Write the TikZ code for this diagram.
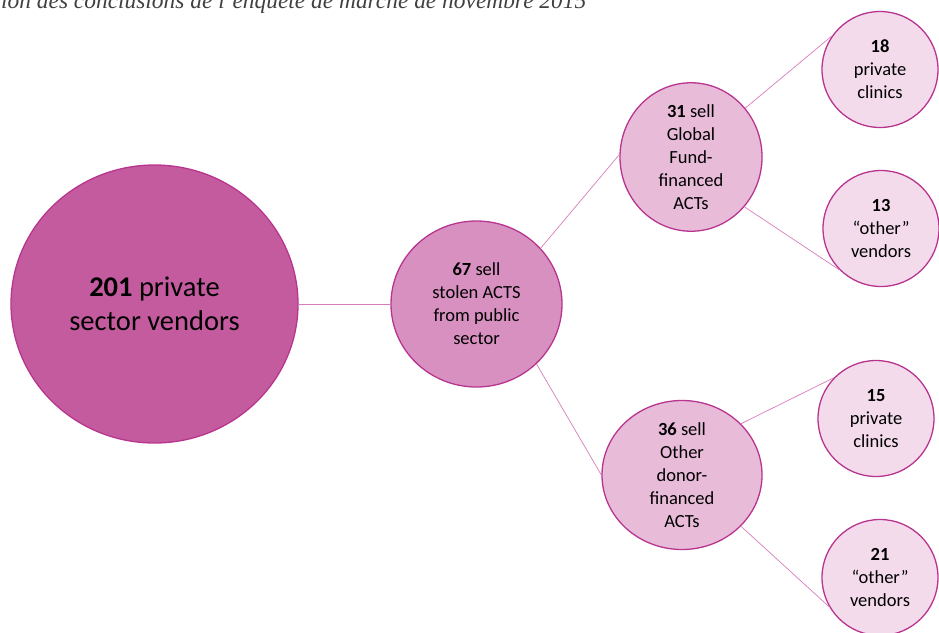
\documentclass[tikz,border=0pt]{standalone}
\usepackage{fontspec}
\setmainfont{Carlito}
\newfontfamily\captionfont{Liberation Serif}
\usetikzlibrary{shapes.geometric}
\definecolor{rimpink}{HTML}{B8358F}
\definecolor{linkpink}{HTML}{D77DBB}
\definecolor{rootfill}{HTML}{C55B9F}
\definecolor{stolenfill}{HTML}{D890C1}
\definecolor{sellfill}{HTML}{E8BBD9}
\definecolor{leaffill}{HTML}{F3DBEC}
\definecolor{captiongrey}{HTML}{404040}
\begin{document}
\begin{tikzpicture}[x=1pt,y=1pt,align=center,grow'=right,
    font=\fontsize{18.5}{23}\selectfont,
    edge from parent/.style={draw=linkpink,line width=0.7pt}]
\tikzstyle{bubble}=[ellipse,draw=rimpink,line width=1.3pt,inner sep=0pt]
\tikzstyle{sellbubble}=[bubble,fill=sellfill]
\tikzstyle{leafbubble}=[bubble,fill=leaffill,minimum width=116pt,minimum height=116pt]
\tikzstyle{level 1}=[level distance=322pt]
\tikzstyle{level 2}=[level distance=210pt,sibling distance=318pt]
\tikzstyle{level 3}=[level distance=192pt,sibling distance=159pt]
\useasboundingbox (0,0) rectangle (939,-632);
\clip (0,0) rectangle (939,-632);
\node[anchor=base west,inner sep=0pt,text=captiongrey,
    font=\captionfont\itshape\fontsize{23.4}{23.4}\selectfont] (caption) at (1,-8)
    {ion des conclusions de l’enquête de marché de novembre 2015};
\node[bubble,fill=rootfill,minimum width=287pt,minimum height=278pt,
    font=\fontsize{28.5}{34}\selectfont] (vendors) at (154.5,-304) {\textbf{201} private\\sector vendors}
child { node[bubble,fill=stolenfill,minimum width=171pt,minimum height=166pt] (stolen)
        {\textbf{67} sell\\stolen ACTS\\from public\\sector}
    child [xshift=4.5pt,yshift=-12pt,parent anchor=41,child anchor=178] {
        node[sellbubble,minimum width=142pt,minimum height=129pt] (globalfund)
        {\textbf{31} sell\\Global\\Fund-\\financed\\ACTs}
        child [xshift=-3pt,yshift=8pt,parent anchor=42,child anchor=145] {
            node[leafbubble] (gfclinics) {\textbf{18}\\private\\clinics} }
        child [xshift=-2pt,yshift=8pt,parent anchor=-43,child anchor=225] {
            node[leafbubble] (gfother) {\textbf{13}\\“other”\\vendors} }
    }
    child [xshift=-4.5pt,yshift=-12pt,parent anchor=-45,child anchor=180] {
        node[sellbubble,minimum width=160pt,minimum height=149pt] (otherdonor)
        {\textbf{36} sell\\Other\\donor-\\financed\\ACTs}
        child [xshift=2pt,yshift=-23pt,parent anchor=41,child anchor=136] {
            node[leafbubble] (odclinics) {\textbf{15}\\private\\clinics} }
        child [xshift=6pt,yshift=-23pt,parent anchor=-41,child anchor=210] {
            node[leafbubble] (odother) {\textbf{21}\\“other”\\vendors} }
    }
};
\end{tikzpicture}
\end{document}
